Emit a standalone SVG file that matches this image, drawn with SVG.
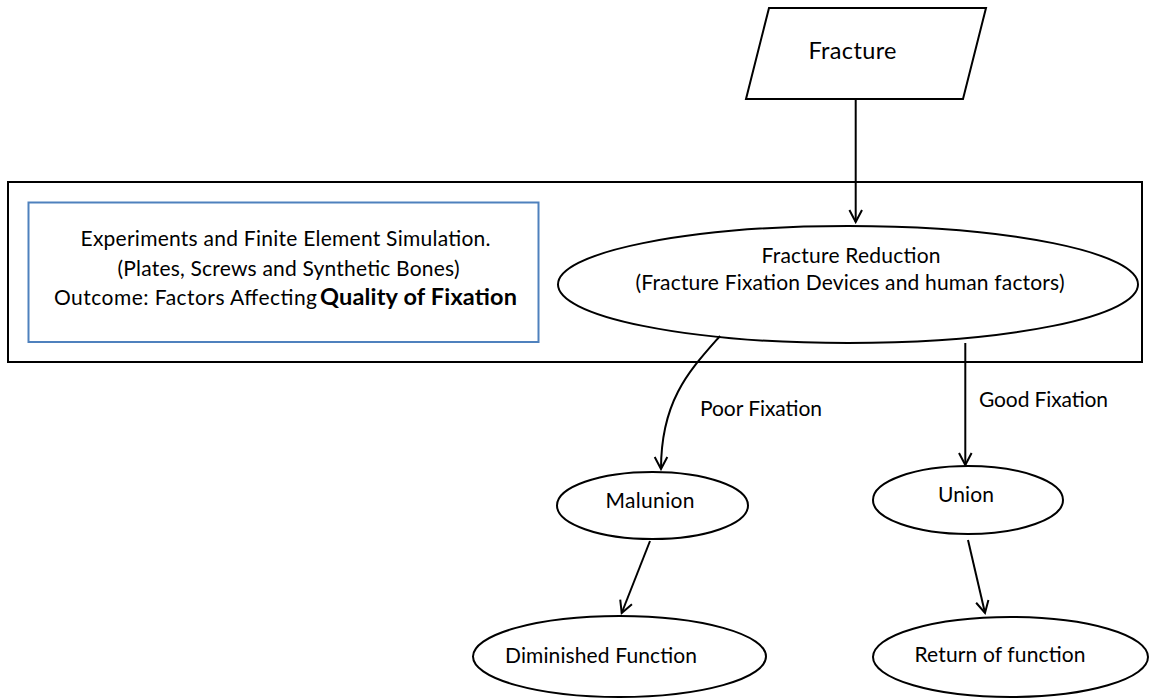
<svg xmlns="http://www.w3.org/2000/svg" width="1171" height="700" viewBox="0 0 1171 700">
  <defs>
    <marker id="arrow" markerUnits="userSpaceOnUse" markerWidth="16" markerHeight="16" viewBox="-14 -8 16 16" refX="0" refY="0" orient="auto">
      <path d="M-12,-6.3 L0,0 L-12,6.3" fill="none" stroke="#000" stroke-width="2" stroke-linejoin="miter"/>
    </marker>
  </defs>
  <style>
    .shape { fill: #fff; stroke: #000; stroke-width: 2; }
    .frame { fill: none; stroke: #000; stroke-width: 2; }
    .note { fill: #fff; stroke: #4F81BD; stroke-width: 2; }
    .edge { fill: none; stroke: #000; stroke-width: 2; marker-end: url(#arrow); }
    text { font-family: Lato, "Open Sans", "Liberation Sans", sans-serif; font-size: 21px; fill: #000; }
    .big { font-size: 23.5px; }
    .bold { font-weight: bold; font-size: 23.5px; }
  </style>
  <rect width="1171" height="700" fill="#fff"/>

  <!-- enclosing frame for the fixation study -->
  <g id="frame-fixation">
    <rect class="frame" x="8" y="182" width="1134" height="180"/>
  </g>

  <g id="node-experiments">
    <rect class="note" x="28.5" y="202.5" width="510" height="139.5"/>
    <text x="285.5" y="246" text-anchor="middle" textLength="410">Experiments and Finite Element Simulation.</text>
    <text x="288.5" y="276" text-anchor="middle" textLength="342">(Plates, Screws and Synthetic Bones)</text>
    <text x="54" y="305" textLength="263">Outcome: Factors Affecting</text>
    <text class="bold" x="320" y="305" textLength="197">Quality of Fixation</text>
  </g>

  <g id="node-fracture">
    <polygon class="shape" points="769,8 986,8 963,99 746,99"/>
    <text class="big" x="852.5" y="59" text-anchor="middle" textLength="88">Fracture</text>
  </g>

  <g id="node-reduction">
    <ellipse class="shape" cx="848" cy="284.5" rx="290" ry="58.5"/>
    <text x="851" y="263" text-anchor="middle" textLength="179">Fracture Reduction</text>
    <text x="850" y="290" text-anchor="middle" textLength="429">(Fracture Fixation Devices and human factors)</text>
  </g>

  <g id="node-malunion">
    <ellipse class="shape" cx="652.5" cy="505.5" rx="95.5" ry="33.5"/>
    <text x="650" y="508" text-anchor="middle" textLength="89">Malunion</text>
  </g>

  <g id="node-union">
    <ellipse class="shape" cx="968" cy="500" rx="95" ry="34"/>
    <text x="966" y="502" text-anchor="middle" textLength="56">Union</text>
  </g>

  <g id="node-diminished">
    <ellipse class="shape" cx="619.5" cy="656.5" rx="146.5" ry="40.5"/>
    <text x="601" y="663" text-anchor="middle" textLength="192">Diminished Function</text>
  </g>

  <g id="node-return">
    <ellipse class="shape" cx="1010.5" cy="657" rx="137.5" ry="40"/>
    <text x="1000" y="662" text-anchor="middle" textLength="171">Return of function</text>
  </g>

  <g id="connectors">
    <path class="edge" d="M855.7,99 L855.7,222"/>
    <path class="edge" d="M720,336 C690,370 661,400 661,469"/>
    <path class="edge" d="M965.3,343 L965.3,465"/>
    <path class="edge" d="M650,541 L621.7,613"/>
    <path class="edge" d="M968,540 L985,613"/>
    <text x="700" y="416" textLength="122">Poor Fixation</text>
    <text x="979" y="407" textLength="129">Good Fixation</text>
  </g>
</svg>
